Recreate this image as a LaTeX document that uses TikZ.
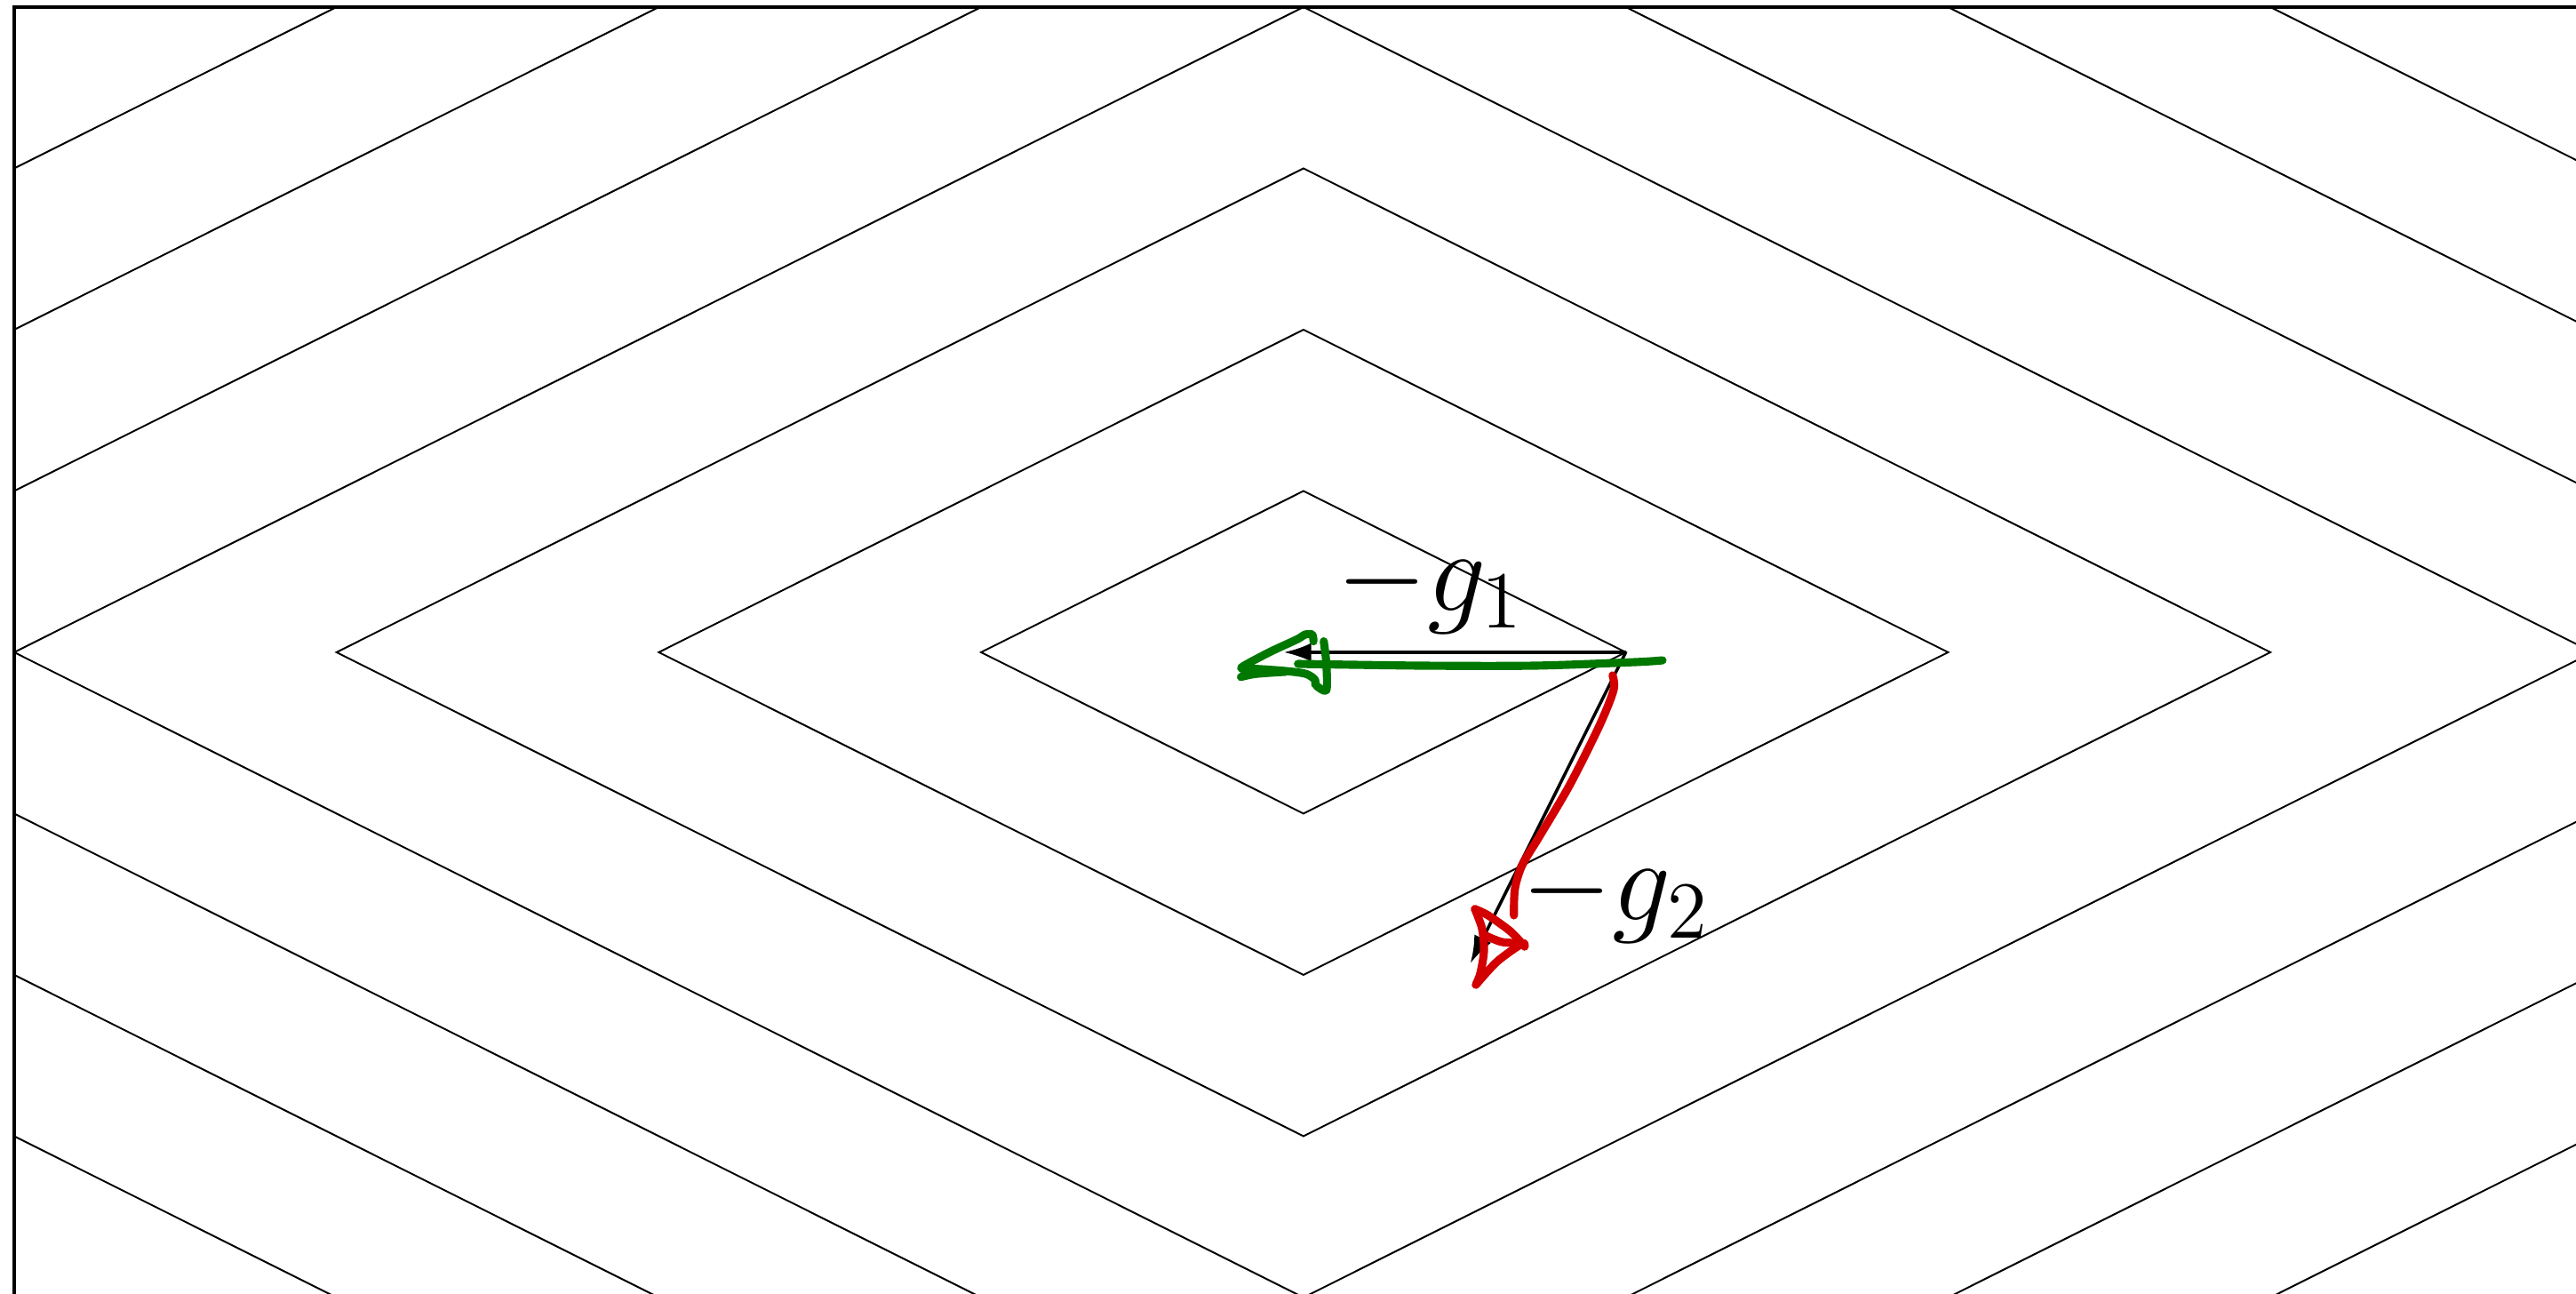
\documentclass[tikz,border=0pt]{standalone}
\usepackage{amsmath,amssymb}
\usetikzlibrary{arrows.meta}
\definecolor{penG}{RGB}{0,120,0}
\definecolor{penR}{RGB}{210,0,0}

\begin{document}
\begin{tikzpicture}[x=1.81375cm,y=0.9075cm,>={Latex[length=4.4pt,width=3pt]},
  contour/.style={line width=0.28pt},
  frame/.style={line width=0.45pt},
  vec/.style={->,line width=0.5pt},
  lbl/.style={font=\LARGE,scale=1.08,inner sep=0.09cm},
  pen/.style={line width=1.3pt,line cap=round,line join=round}]
\useasboundingbox (-4.044,-3.978) rectangle (3.948,4.044);
% ---------- level sets |x|+|y|=c ----------
\begin{scope}
\clip (-4,-3.978) rectangle (3.948,4);
\foreach \c in {1,...,7}
  \draw[contour] (\c,0)--(0,\c)--(-\c,0)--(0,-\c)--cycle;
\end{scope}
\draw[frame] (-4,-3.978)--(-4,4)--(3.948,4);
% ---------- subgradients at the vertex ----------
\coordinate (v) at (1,0);
\coordinate (t1) at (-0.061,0);
\coordinate (t2) at (0.518,-1.928);
\draw[vec] (v)--(t1) node[pos=0.57,above,lbl] (l1) {$-g_1$};
\draw[vec] (v)--(t2) node[pos=0.79,right,lbl] (l2) {$-g_2$};
% ---------- pen strokes ----------
\draw[pen,penG] plot[smooth] coordinates {(1.114,-0.050) (1.028,-0.061) (0.717,-0.083) (0.367,-0.083) (-0.017,-0.072)};
\draw[pen,penG] plot[smooth] coordinates {(0.031,0.068) (0.027,0.110) (0.004,0.109) (-0.019,0.081) (-0.102,0.004) (-0.185,-0.084) (-0.189,-0.103) (-0.148,-0.103) (-0.056,-0.116) (0.008,-0.134) (0.036,-0.171) (0.036,-0.198)};
\draw[pen,penG] plot[smooth] coordinates {(0.063,0.068) (0.071,-0.070) (0.071,-0.235) (0.041,-0.208)};
\draw[pen,penG] plot[smooth] coordinates {(-0.194,-0.153) (-0.148,-0.134) (-0.056,-0.121)};
\draw[pen,penR] plot[smooth] coordinates {(0.959,-0.143) (0.962,-0.235) (0.918,-0.456) (0.826,-0.823) (0.734,-1.135) (0.679,-1.318) (0.656,-1.466) (0.653,-1.631)};
\draw[pen,penR] plot[smooth] coordinates {(0.532,-1.592) (0.554,-1.713) (0.560,-1.851) (0.549,-1.989) (0.535,-2.061)};
\draw[pen,penR] plot[smooth] coordinates {(0.535,-2.061) (0.601,-1.917) (0.678,-1.807) (0.686,-1.824)};
\draw[pen,penR] plot[smooth] coordinates {(0.686,-1.824) (0.642,-1.730) (0.573,-1.631) (0.532,-1.592)};
\draw[pen,penR] plot[smooth] coordinates {(0.560,-1.752) (0.615,-1.796) (0.675,-1.802)};
\end{tikzpicture}
\end{document}
